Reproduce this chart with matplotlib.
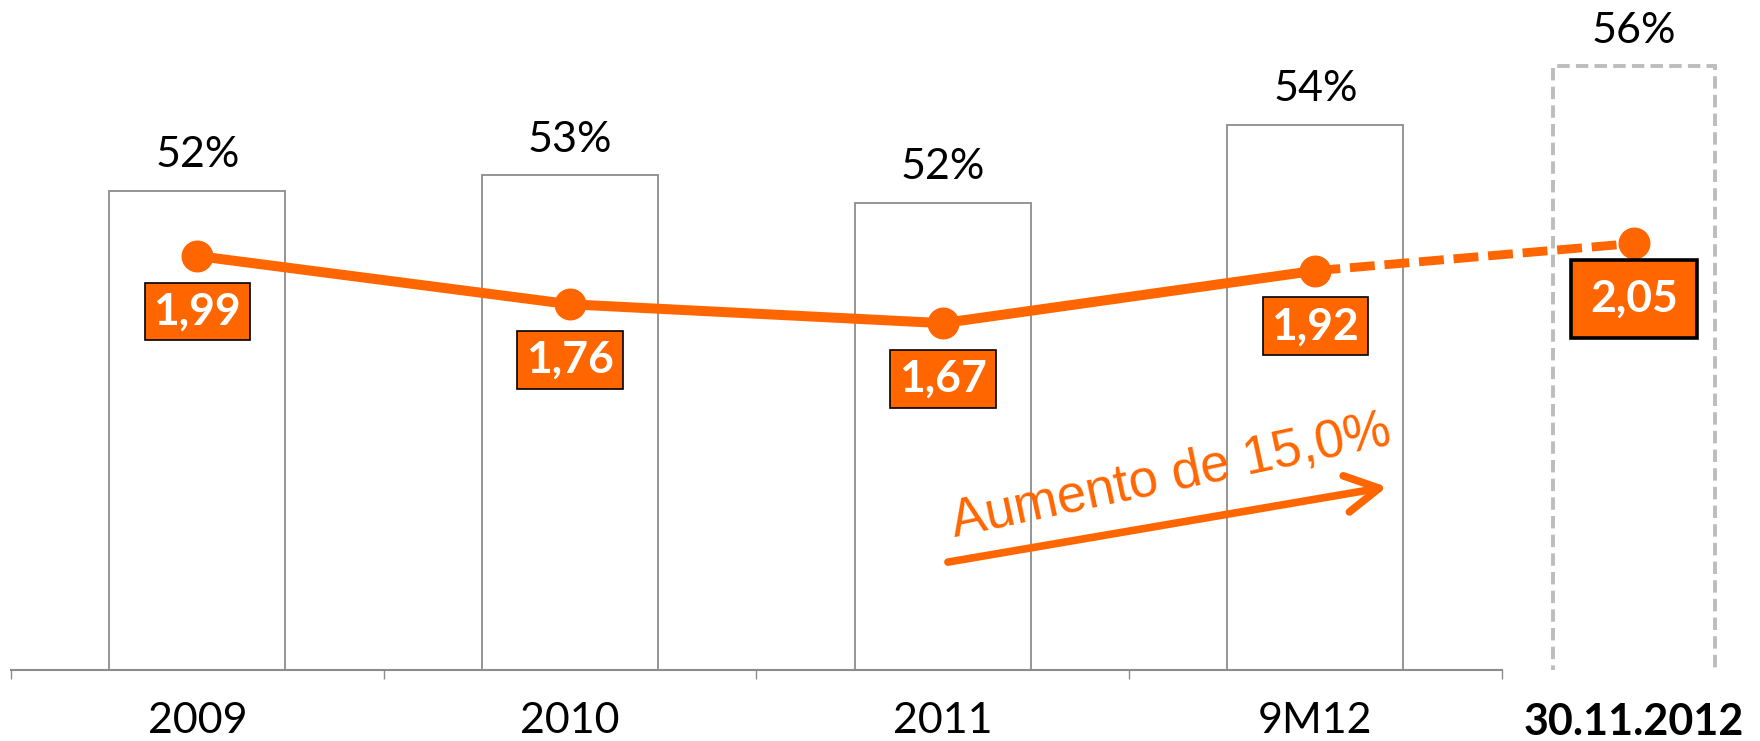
import matplotlib
matplotlib.use("Agg")
import matplotlib.pyplot as plt

# ---------------- data ----------------
categories = ["2009", "2010", "2011", "9M12", "30.11.2012"]
ratio_values = [52.3, 52.7, 52.0, 54.0, 55.5]          # bar heights (%)
ratio_labels = ["52%", "53%", "52%", "54%", "56%"]
line_values = [1.99, 1.76, 1.67, 1.92, 2.05]
line_labels = ["1,99", "1,76", "1,67", "1,92", "2,05"]
arrow_text = "Aumento de 15,0%"

# ---------------- layout / style ----------------
x_pos = [0, 1, 2, 3, 3.855]
ORANGE = "#FF6600"
BAR_EDGE = "#8C8C8C"
FONT = "Lato"

fig = plt.figure(figsize=(17.6, 7.41), dpi=100)
ax = fig.add_axes([0, 71 / 741, 1, 670 / 741])
ax.set_xlim(-0.5295, 4.193)
ax.set_ylim(40, 57.2)

# regular bars
ax.bar(x_pos[:4], ratio_values[:4], width=0.472, bottom=0, fill=False,
       edgecolor=BAR_EDGE, linewidth=1.3, zorder=1)
# projected (dashed) bar
ax.bar(x_pos[4], ratio_values[4], width=0.435, bottom=0, fill=False,
       edgecolor="#BDBDBD", linewidth=2.8, linestyle=(0, (3.2, 1.6)), zorder=1)

for xp, v, lab in zip(x_pos, ratio_values, ratio_labels):
    ax.annotate(lab, (xp, v), xytext=(0, 17), textcoords="offset points",
                ha="center", va="baseline", fontsize=31, family=FONT,
                color="black")

# axes styling
for s in ["top", "left", "right"]:
    ax.spines[s].set_visible(False)
ax.spines["bottom"].set_color(BAR_EDGE)
ax.spines["bottom"].set_linewidth(1.5)
ax.spines["bottom"].set_bounds(-0.5, 3.5)
ax.set_yticks([])
ax.set_xticks(x_pos)
ax.set_xticklabels(categories, fontsize=31, family=FONT)
ax.tick_params(axis="x", which="major", length=0, pad=23)
ax.set_xticks([-0.5, 0.5, 1.5, 2.5, 3.5], minor=True)
ax.tick_params(axis="x", which="minor", length=6.5, width=1, color=BAR_EDGE)
ax.get_xticklabels()[-1].set_fontweight("bold")

# ---------------- line on twin axis ----------------
ax2 = ax.twinx()
ax2.set_ylim(0.0176, 3.2096)
ax2.set_xlim(ax.get_xlim())
for s in ax2.spines.values():
    s.set_visible(False)
ax2.set_yticks([])

ax2.plot(x_pos[:4], line_values[:4], color=ORANGE, lw=7.2,
         solid_capstyle="round", zorder=3)
ax2.plot(x_pos[3:], line_values[3:], color=ORANGE, lw=6.4,
         linestyle=(0, (2.8, 1.1)), zorder=3)
ax2.plot(x_pos, line_values, linestyle="none", marker="o", markersize=22,
         color=ORANGE, zorder=4)

for i, (xp, v, lab) in enumerate(zip(x_pos, line_values, line_labels)):
    last = i == len(x_pos) - 1
    ax2.annotate(lab, (xp, v), xytext=(0, -40), textcoords="offset points",
                 ha="center", va="center", fontsize=32, fontweight="bold",
                 family=FONT, color="white", zorder=6,
                 bbox=dict(boxstyle="square,pad=%s" % (0.42 if last else 0.2),
                           facecolor=ORANGE, edgecolor="black",
                           linewidth=2.6 if last else 1.2))

# ---------------- trend arrow ----------------
ax.annotate("", xy=(3.192, 44.70), xytext=(2.014, 42.77),
            arrowprops=dict(arrowstyle="->,head_length=1.0,head_width=0.55",
                            lw=5.5, color=ORANGE, shrinkA=0, shrinkB=0,
                            mutation_scale=24),
            zorder=5)
ax.text(2.62, 44.6, arrow_text, rotation=12, rotation_mode="anchor",
        ha="center", va="baseline", fontsize=38, family="Liberation Sans",
        color=ORANGE, zorder=5)

fig.savefig("out.png", dpi=100)
